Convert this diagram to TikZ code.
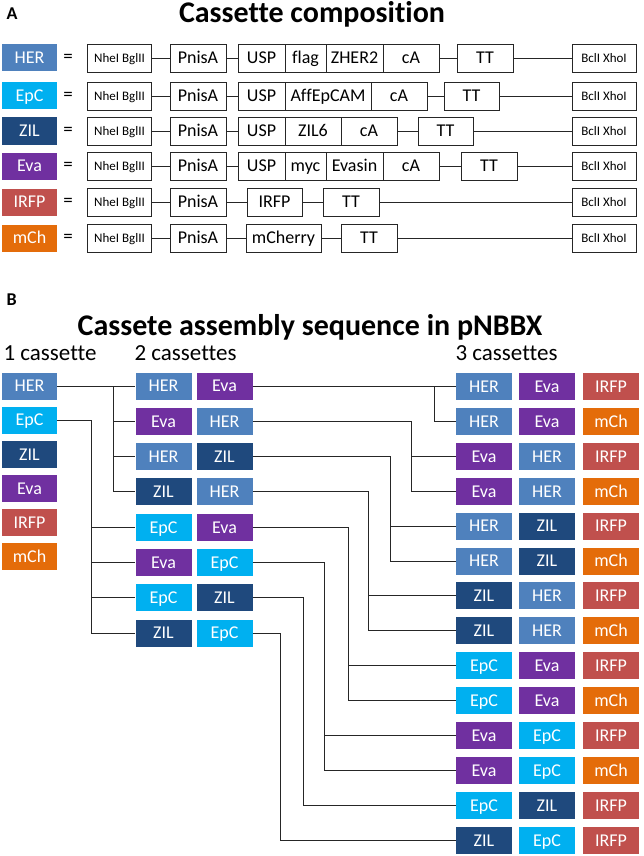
\documentclass[tikz,border=0pt]{standalone}
\usepackage{fontspec}
\setmainfont{Carlito}[Ligatures=NoCommon]
\usepackage{tikz}

\definecolor{HER}{HTML}{4F81BD}
\definecolor{EpC}{HTML}{00B0F0}
\definecolor{ZIL}{HTML}{1F497D}
\definecolor{Eva}{HTML}{7030A0}
\definecolor{IRFP}{HTML}{C0504D}
\definecolor{mCh}{HTML}{E46C0A}

\tikzset{
  tag/.style={fill=#1, text=white, minimum width=55pt, minimum height=27pt,
    inner sep=0pt, text height=14pt, text depth=2.4pt,
    font=\fontsize{18}{18}\selectfont},
  part/.style={draw=black!85, line width=0.8pt, fill=white, minimum width=#1,
    minimum height=28pt, inner sep=0pt, text height=14pt, text depth=2.4pt,
    font=\fontsize{18}{18}\selectfont},
  site/.style={part=64pt, text height=10pt, text depth=1.6pt,
    font=\fontsize{13}{13}\selectfont},
  wire/.style={draw=black!85, line width=0.9pt},
  panel/.style={anchor=base west, font=\bfseries\fontsize{18}{18}\selectfont},
  heading/.style={anchor=base, font=\bfseries\fontsize{30}{30}\selectfont},
  count/.style={anchor=base west, font=\fontsize{23}{23}\selectfont}
}

\begin{document}
\begin{tikzpicture}[x=1pt, y=-1pt]
    \useasboundingbox (0,0) rectangle (643,856);

    % A
    \node [panel] (labA) at (3,20) {A};
    \node [heading] (titA) at (312,23) {Cassette composition};
    \foreach \c/\y in {HER/58, EpC/96, ZIL/131, Eva/166, IRFP/202, mCh/238} {
      \node [tag=\c] (\c) at (29.5,\y) {\c};
      \node [font=\fontsize{19}{19}\selectfont] (\c-eq) at (68,\y) {=};
      \node [site] (\c-nb) at (119.5,\y) {NheI BglII};
      \node [part=56pt] (\c-p) at (198,\y) {PnisA};
      \node [site] (\c-bx) at (604,\y) {BclI XhoI};
      \draw [wire] (\c-nb) -- (\c-p);
    }
    % HER
    \node [part=47pt] (HER-usp) at (261.5,58) {USP};
    \node [part=41pt] (HER-tag) at (305.5,58) {flag};
    \node [part=57pt] (HER-gene) at (354.5,58) {ZHER2};
    \node [part=56pt] (HER-ca) at (411,58) {cA};
    \node [part=56pt] (HER-tt) at (485,58) {TT};
    % EpC
    \node [part=47pt] (EpC-usp) at (261.5,96) {USP};
    \node [part=86pt] (EpC-gene) at (328,96) {AffEpCAM};
    \node [part=56pt] (EpC-ca) at (399,96) {cA};
    \node [part=55pt] (EpC-tt) at (471.5,96) {TT};
    % ZIL
    \node [part=47pt] (ZIL-usp) at (261.5,131) {USP};
    \node [part=56pt] (ZIL-gene) at (313,131) {ZIL6};
    \node [part=56pt] (ZIL-ca) at (369,131) {cA};
    \node [part=55pt] (ZIL-tt) at (445.5,131) {TT};
    % Eva
    \node [part=47pt] (Eva-usp) at (261.5,166) {USP};
    \node [part=41pt] (Eva-tag) at (305.5,166) {myc};
    \node [part=57pt] (Eva-gene) at (354.5,166) {Evasin};
    \node [part=56pt] (Eva-ca) at (411,166) {cA};
    \node [part=56pt] (Eva-tt) at (489,166) {TT};
    \foreach \c in {HER, EpC, ZIL, Eva} {
      \draw [wire] (\c-p) -- (\c-usp);
      \draw [wire] (\c-ca) -- (\c-tt);
      \draw [wire] (\c-tt) -- (\c-bx);
    }
    % IRFP, mCh
    \node [part=55pt] (IRFP-gene) at (274.5,202) {IRFP};
    \node [part=56pt] (IRFP-tt) at (351,202) {TT};
    \node [part=75pt] (mCh-gene) at (283.5,238) {mCherry};
    \node [part=56pt] (mCh-tt) at (369,238) {TT};
    \foreach \c in {IRFP, mCh} {
      \draw [wire] (\c-p) -- (\c-gene);
      \draw [wire] (\c-gene) -- (\c-tt);
      \draw [wire] (\c-tt) -- (\c-bx);
    }

    % B
    \node [panel] (labB) at (3,305) {B};
    \node [heading] (titB) at (310,335) {Cassete assembly sequence in pNBBX};
    \node [count] (n1) at (0,360) {1 cassette};
    \node [count] (n2) at (131,360) {2 cassettes};
    \node [count] (n3) at (452,360) {3 cassettes};

    \foreach \a [count=\i] in {HER, EpC, ZIL, Eva, IRFP, mCh}
      \node [tag=\a] (s\i) at (29.5,{386+34.1*(\i-1)}) {\a};

    \foreach \a/\b [count=\i] in {HER/Eva, Eva/HER, HER/ZIL, ZIL/HER,
                                  EpC/Eva, Eva/EpC, EpC/ZIL, ZIL/EpC} {
      \node [tag=\a, minimum width=56pt] (d\i-a) at (163.5,{386+35.3*(\i-1)}) {\a};
      \node [tag=\b, minimum width=56pt] (d\i-b) at (224.5,{386+35.3*(\i-1)}) {\b};
    }

    \foreach \a/\b/\c [count=\i] in {HER/Eva/IRFP, HER/Eva/mCh, Eva/HER/IRFP, Eva/HER/mCh,
                                     HER/ZIL/IRFP, HER/ZIL/mCh, ZIL/HER/IRFP, ZIL/HER/mCh,
                                     EpC/Eva/IRFP, EpC/Eva/mCh, Eva/EpC/IRFP, Eva/EpC/mCh,
                                     EpC/ZIL/IRFP, ZIL/EpC/IRFP} {
      \node [tag=\a, minimum width=56pt] (t\i-a) at (484,{386.5+34.9*(\i-1)}) {\a};
      \node [tag=\b, minimum width=56pt] (t\i-b) at (547,{386.5+34.9*(\i-1)}) {\b};
      \node [tag=\c, minimum width=56pt] (t\i-c) at (611,{386.5+34.9*(\i-1)}) {\c};
    }

    % 1 -> 2 cassettes
    \coordinate (j1) at (113,386);
    \coordinate (j2) at (91,420);
    \draw [wire] (s1.east) -- (d1-a.west);
    \draw [wire] (d1-a.west -| j1) |- (d4-a.west);
    \foreach \i in {2,3}
      \draw [wire] (d\i-a.west -| j1) -- (d\i-a.west);
    \draw [wire] (s2.east) -- (s2.east -| j2) |- (d8-a.west);
    \foreach \i in {5,6,7}
      \draw [wire] (d\i-a.west -| j2) -- (d\i-a.west);

    % 2 -> 3 cassettes
    \foreach \i/\x/\p/\q in {1/434/1/2, 2/411/3/4, 3/390/5/6, 4/368/7/8,
                             5/348/9/10, 6/324/11/12, 7/303/13/13, 8/280/14/14} {
      \coordinate (k\i) at (\x,{386+35.3*(\i-1)});
      \draw [wire] (d\i-b.east) -- (k\i) |- (t\q-a.west);
      \draw [wire] (k\i |- t\p-a.west) -- (t\p-a.west);
    }
\end{tikzpicture}
\end{document}
